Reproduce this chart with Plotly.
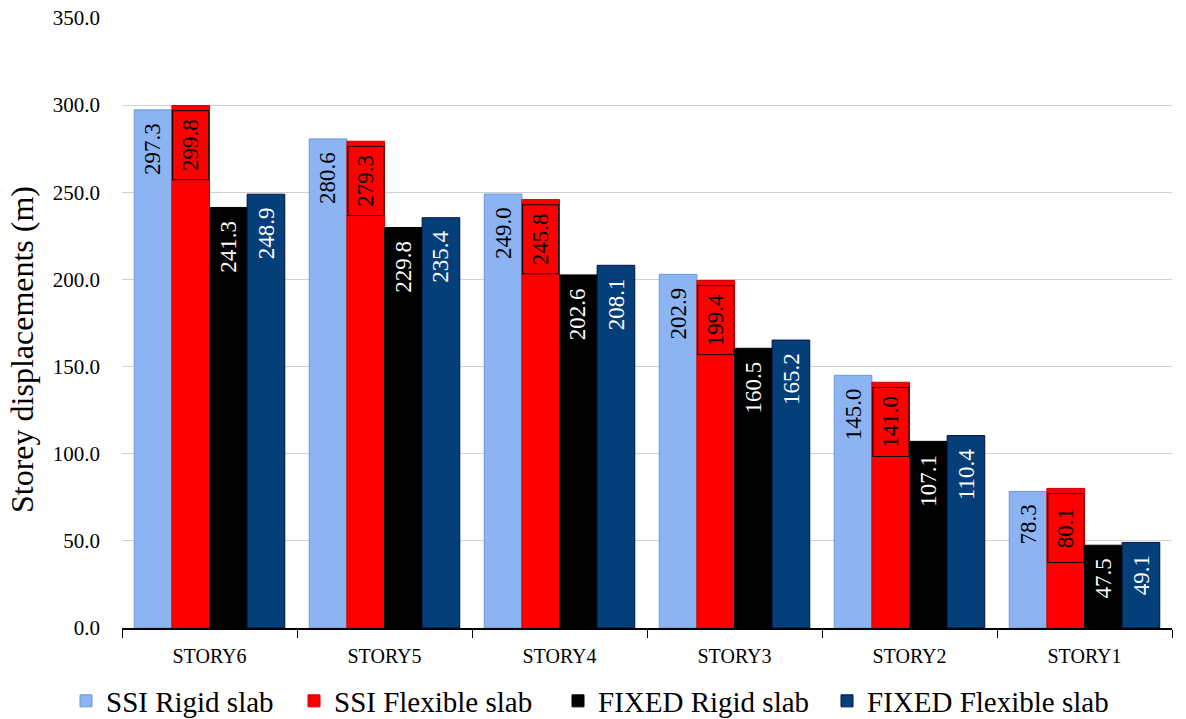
import plotly.graph_objects as go

stories = ["STORY6", "STORY5", "STORY4", "STORY3", "STORY2", "STORY1"]
ssi_rigid = [297.3, 280.6, 249.0, 202.9, 145.0, 78.3]
ssi_flexible = [299.8, 279.3, 245.8, 199.4, 141.0, 80.1]
fixed_rigid = [241.3, 229.8, 202.6, 160.5, 107.1, 47.5]
fixed_flexible = [248.9, 235.4, 208.1, 165.2, 110.4, 49.1]
y_ticks = [0, 50, 100, 150, 200, 250, 300, 350]

FONT = "Liberation Serif"
LABEL_SIZE = 23
W, H = 1186, 719

# name, values, fill, outline, label colour, boxed label
series = [
    ("SSI Rigid slab", ssi_rigid, "#8cb4f2", "#6a98d8", "black", False),
    ("SSI Flexible slab", ssi_flexible, "#ff0000", "#d00000", "black", True),
    ("FIXED Rigid slab", fixed_rigid, "#000000", "#000000", "white", False),
    ("FIXED Flexible slab", fixed_flexible, "#053f7a", "#001040", "white", False),
]

MARGIN_L, MARGIN_R, MARGIN_T, MARGIN_B = 122, 14, 18, 91
plot_w = W - MARGIN_L - MARGIN_R
plot_h = H - MARGIN_T - MARGIN_B
group_w = plot_w / len(stories)
bargap = 0.14
bar_w = group_w * (1 - bargap) / len(series)

# left edge (px) of each legend entry, one legend per series
legend_px = [66, 294, 558, 827]

fig = go.Figure()
for i, (name, vals, fill, edge, tcol, boxed) in enumerate(series):
    leg = "legend" if i == 0 else f"legend{i + 1}"
    fig.add_trace(go.Bar(
        name=name, x=stories, y=vals, legend=leg,
        marker=dict(color=fill, line=dict(color=edge, width=1)),
    ))
    # vertical value labels at the top of each bar
    shift = (i - (len(series) - 1) / 2) * bar_w
    for s, v in zip(stories, vals):
        ann = dict(
            x=s, y=v, xref="x", yref="y", xshift=shift,
            text=f"{v:.1f}", textangle=-90, showarrow=False,
            xanchor="center", yanchor="top",
            font=dict(family=FONT, size=LABEL_SIZE, color=tcol),
        )
        if boxed:
            ann.update(yshift=-5, bordercolor="black", borderwidth=1, borderpad=0,
                       width=68, height=bar_w - 3)
        else:
            ann.update(yshift=-11)
        fig.add_annotation(**ann)
    fig.update_layout({leg: dict(
        orientation="h", xref="container", x=legend_px[i] / W, xanchor="left",
        yref="container", y=1 - 701 / H, yanchor="middle",
        font=dict(family=FONT, size=29), itemwidth=30,
        bgcolor="rgba(0,0,0,0)",
    )})

# y-axis title
fig.add_annotation(
    text="Storey displacements (m)", textangle=-90, showarrow=False,
    xref="paper", yref="paper", x=-(MARGIN_L - 22) / plot_w,
    y=(H - MARGIN_B - 350) / plot_h,
    xanchor="center", yanchor="middle",
    font=dict(family=FONT, size=32, color="black"),
)

fig.update_layout(
    width=W, height=H,
    margin=dict(l=MARGIN_L, r=MARGIN_R, t=MARGIN_T, b=MARGIN_B, autoexpand=False),
    plot_bgcolor="white", paper_bgcolor="white",
    barmode="group", bargap=bargap, bargroupgap=0,
    font=dict(family=FONT, color="black"),
    showlegend=True,
)
fig.update_yaxes(
    range=[0, 350], tickvals=y_ticks, tickformat=".1f",
    showgrid=True, gridcolor="#d0d0d0", gridwidth=1,
    zeroline=False, showline=False, automargin=False,
    ticks="", ticklabelstandoff=21,
    tickfont=dict(family=FONT, size=21, color="black"),
)
fig.update_xaxes(
    showline=True, linecolor="black", linewidth=1.5,
    ticks="outside", tickson="boundaries", ticklen=8, tickcolor="black",
    ticklabelstandoff=9, automargin=False,
    tickfont=dict(family=FONT, size=20, color="black"),
    showgrid=False,
)

fig.write_html("out.html")
